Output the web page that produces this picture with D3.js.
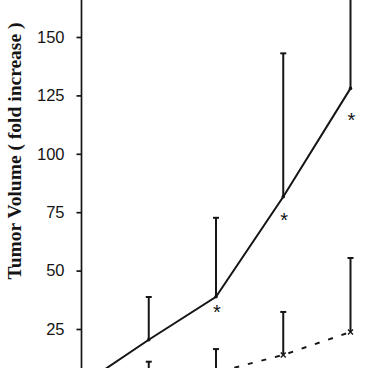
<!DOCTYPE html>
<html>
<head>
<meta charset="utf-8">
<script src="https://cdn.jsdelivr.net/npm/d3@7"></script>
<style>
  html, body { margin: 0; padding: 0; background: #fff; }
  svg { display: block; }
</style>
</head>
<body>
<svg id="chart" width="368" height="368"></svg>
<script>
// ---- data ----
const weeks = [0, 1, 2, 3, 4];
const treatedMean = [1, 20.4, 38.8, 81.6, 128];
const treatedUpper = [1, 38.7, 72.6, 143, 180];
const controlMean = [1, 4, 6.4, 13.9, 23.7];
const controlUpper = [1, 11, 16.4, 32.3, 55.4];
const starWeeks = [2, 3, 4];
const starValues = [34.4, 73.8, 116.6];
const yTicks = [25, 50, 75, 100, 125, 150];
const yLabel = "Tumor Volume (  fold increase )";

const svg = d3.select("#chart");
const W = 368, H = 368;
svg.append("rect").attr("width", W).attr("height", H).attr("fill", "#fff");

const x = d3.scaleLinear().domain([0, 4]).range([81.5, 350.5]);
const y = d3.scaleLinear().domain([0, 170]).range([387.4, 387.4 - 170 * 2.336]);

const ink = "#151515";

// y axis
const yAxis = d3.axisLeft(y).tickValues(yTicks).tickSize(5).tickPadding(12)
  .tickFormat(d3.format("d"));
const gy = svg.append("g").attr("transform", `translate(${x(0)},0)`).call(yAxis);
gy.select(".domain").remove();
gy.append("line").attr("x1", 0).attr("x2", 0).attr("y1", -5).attr("y2", H + 5)
  .attr("stroke", ink).attr("stroke-width", 1.7);
gy.selectAll(".tick line").attr("stroke", ink).attr("stroke-width", 1.7);
gy.selectAll(".tick text")
  .attr("fill", ink)
  .style("font-family", "'Liberation Sans', Arial, sans-serif")
  .style("font-size", "16.5px");

// y label
svg.append("text")
  .attr("transform", `translate(21,151) rotate(-90)`)
  .attr("text-anchor", "middle")
  .style("font-family", "'Liberation Serif', 'Times New Roman', serif")
  .style("font-weight", "bold")
  .style("font-size", "19.5px")
  .attr("fill", ink)
  .text(yLabel);

const treated = weeks.map((w, i) => ({ w, m: treatedMean[i], u: treatedUpper[i] }));
const control = weeks.map((w, i) => ({ w, m: controlMean[i], u: controlUpper[i] }));

const line = d3.line().x(d => x(d.w)).y(d => y(d.m));

// control (dashed)
svg.append("path").datum(control).attr("d", line)
  .attr("fill", "none").attr("stroke", ink).attr("stroke-width", 2)
  .attr("stroke-dasharray", "5,9");

// treated (solid)
svg.append("path").datum(treated).attr("d", line)
  .attr("fill", "none").attr("stroke", ink).attr("stroke-width", 2);

// error bars
function errorBars(data, cls) {
  const g = svg.append("g").attr("class", cls);
  const d = data.filter(p => p.w > 0);
  g.selectAll("line.v").data(d).join("line").attr("class", "v")
    .attr("x1", p => x(p.w)).attr("x2", p => x(p.w))
    .attr("y1", p => y(p.m)).attr("y2", p => y(p.u))
    .attr("stroke", ink).attr("stroke-width", 2);
  g.selectAll("line.c").data(d).join("line").attr("class", "c")
    .attr("x1", p => x(p.w) - 3).attr("x2", p => x(p.w) + 3)
    .attr("y1", p => y(p.u)).attr("y2", p => y(p.u))
    .attr("stroke", ink).attr("stroke-width", 2);
}
errorBars(treated, "eb-t");
errorBars(control, "eb-c");

// markers
svg.selectAll("circle.pt").data(treated.filter(p => p.w > 0)).join("circle")
  .attr("class", "pt").attr("cx", p => x(p.w)).attr("cy", p => y(p.m))
  .attr("r", 1.8).attr("fill", ink);
const starSym = d3.symbol().type(d3.symbolTimes || d3.symbolCross).size(18);
svg.selectAll("path.cp").data(control.filter(p => p.w > 0)).join("path")
  .attr("class", "cp")
  .attr("transform", p => `translate(${x(p.w)},${y(p.m)})`)
  .attr("d", starSym).attr("fill", "none").attr("stroke", ink).attr("stroke-width", 1.4);

// significance asterisks
svg.selectAll("text.sig").data(starWeeks.map((w, i) => ({ w, v: starValues[i] })))
  .join("text").attr("class", "sig")
  .attr("x", d => x(d.w) + 1).attr("y", d => y(d.v) + 11.5)
  .attr("text-anchor", "middle")
  .style("font-family", "'Liberation Sans', Arial, sans-serif")
  .style("font-size", "20px")
  .attr("fill", ink)
  .text("*");
</script>
</body>
</html>
